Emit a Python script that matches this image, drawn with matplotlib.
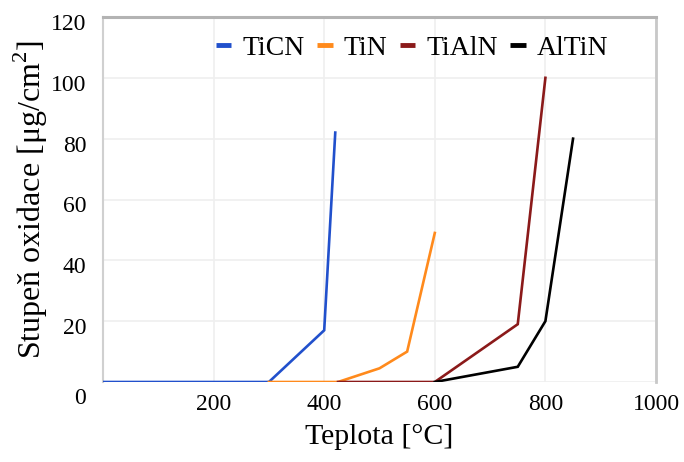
import matplotlib
matplotlib.use("Agg")
import matplotlib.pyplot as plt
import matplotlib.transforms as mtrans
from matplotlib.lines import Line2D

plt.rcParams['font.family'] = ['Liberation Serif', 'DejaVu Serif']
plt.rcParams['mathtext.fontset'] = 'custom'
plt.rcParams['mathtext.rm'] = 'Liberation Serif'

series_names = ["TiCN", "TiN", "TiAlN", "AlTiN"]
ticn_x = [0, 300, 400, 420]
ticn_y = [0, 0, 17, 82]
tin_x = [300, 425, 500, 550, 600]
tin_y = [0, 0, 4.5, 10, 49]
tialn_x = [425, 600, 750, 800]
tialn_y = [0, 0, 19, 100]
altin_x = [600, 750, 800, 850]
altin_y = [0, 5, 20, 80]
colors = ["#2150CC", "#FF8A1C", "#8B1A1A", "#000000"]

xticks = [200, 400, 600, 800, 1000]
yticks = [0, 20, 40, 60, 80, 100, 120]

fig = plt.figure(figsize=(6.84, 4.62), dpi=100)
ax = fig.add_axes([103/684, 1 - 382/462, (656-103)/684, (382-17)/462])

data = [(ticn_x, ticn_y), (tin_x, tin_y), (tialn_x, tialn_y), (altin_x, altin_y)]
for (xs, ys), c, n in zip(data, colors, series_names):
    ax.plot(xs, ys, color=c, lw=1.9, label=n, solid_joinstyle='miter', zorder=3)

ax.set_xlim(0, 1000)
ax.set_ylim(0, 120)
ax.set_xticks(xticks)
ax.set_yticks(yticks)
ax.tick_params(axis='both', length=0, labelsize=17, colors='black')
ax.tick_params(axis='x', pad=9)
ax.tick_params(axis='y', pad=12)
ax.grid(True, color='#efefef', lw=1.2, zorder=0)

for val, t in zip(yticks, ax.yaxis.get_major_ticks()):
    dy = -14 if val == 0 else -5
    off = mtrans.ScaledTranslation(0, dy/100, fig.dpi_scale_trans)
    t.label1.set_transform(t.label1.get_transform() + off)

ax.spines['bottom'].set_visible(False)
ax.spines['top'].set_color('#b3b3b3')
ax.spines['top'].set_linewidth(2.2)
ax.spines['right'].set_color('#c8c8c8')
ax.spines['right'].set_linewidth(2.0)
ax.spines['left'].set_color('#d0d0d0')
ax.spines['left'].set_linewidth(1.5)

ax.set_xlabel("Teplota [°C]", fontsize=21.5, labelpad=6)
ax.set_ylabel("Stupeň oxidace [μg/cm$^2$]", fontsize=23, labelpad=1)

handles = [Line2D([0], [0], color=c, lw=3.5, solid_capstyle='butt') for c in colors]
ax.legend(handles, series_names, loc='upper center', bbox_to_anchor=(0.559, 0.995),
          ncol=4, frameon=False, fontsize=20, handlelength=0.55,
          handletextpad=0.4, columnspacing=0.45, borderaxespad=0.2)

fig.savefig("out.png", dpi=100, facecolor='white')
